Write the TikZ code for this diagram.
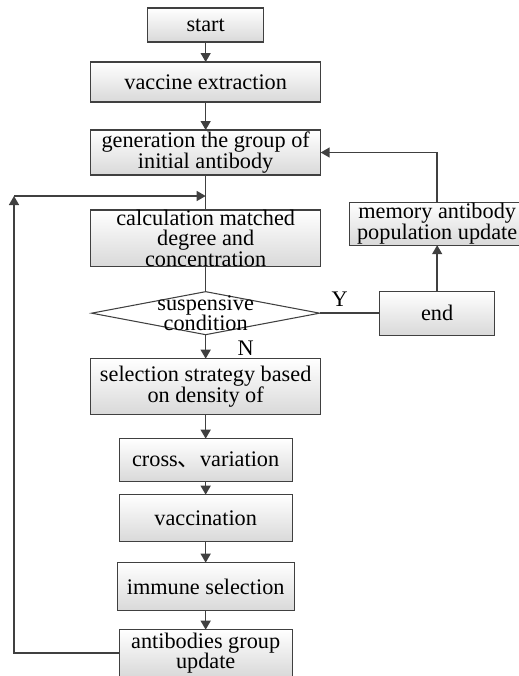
\documentclass[tikz,border=0pt]{standalone}
\usepackage{fontspec}
\setmainfont{Liberation Serif}
\newfontfamily\cjk{Noto Sans CJK SC}
\usepackage{tikz}
\usetikzlibrary{shapes.geometric, arrows.meta, positioning, calc, shadows}
\tikzset{
  kutu/.style={rectangle, draw=black!75, line width=0.9pt, top color=white, bottom color=black!15, drop shadow={shadow xshift=0.7pt, shadow yshift=-0.7pt, fill=black!45}, minimum width=6.9cm, minimum height=1.2cm, align=center, font=\fontsize{19}{17.5}\selectfont, inner ysep=1pt, outer sep=0pt},
  karar/.style={diamond, draw=black!75, line width=0.9pt, fill=white, aspect=5.3, minimum width=6.84cm, minimum height=1.29cm, inner sep=0pt, outer sep=0pt},
  etiket/.style={font=\fontsize{19}{17.5}\selectfont, align=center, inner sep=0pt},
  akis/.style={-{Triangle[length=0.27cm, width=0.3cm]}, line width=1.2pt, draw=black!75},
  hat/.style={line width=1.2pt, draw=black!75},
}
\begin{document}
\begin{tikzpicture}
  \useasboundingbox (0,0) rectangle (15.57,-20.28);
  % Ana akış
  \node[kutu, minimum width=3.48cm, minimum height=1.02cm] (start) at (6.17,-0.75) {start};
  \node[kutu, below=0.6cm of start] (vac) {vaccine extraction};
  \node[kutu, below=0.84cm of vac, minimum height=1.35cm] (gen) {generation the group of\\initial antibody};
  \node[kutu, below=1.05cm of gen, minimum height=1.65cm, inner ysep=0pt] (calc) {calculation matched\\degree and\\concentration};
  \node[karar, below=0.75cm of calc, label={[etiket]center:{suspensive\\condition}}] (cond) {};
  \node[kutu, below=0.72cm of cond, minimum height=1.68cm] (sel) {selection strategy based\\on density of};
  \node[kutu, below=0.72cm of sel, minimum width=5.19cm, minimum height=1.29cm] (cross) {cross{\cjk 、}variation};
  \node[kutu, below=0.39cm of cross, minimum width=5.19cm, minimum height=1.41cm] (vacn) {vaccination};
  \node[kutu, below=0.63cm of vacn, minimum width=5.31cm, minimum height=1.44cm] (imm) {immune selection};
  \node[kutu, below=0.57cm of imm, minimum width=5.19cm, minimum height=1.41cm] (upd) {antibodies group\\update};
  % Sağ kol
  \node[kutu, right=1.8cm of cond, minimum width=3.45cm, minimum height=1.32cm] (bitis) {end};
  \node[kutu, above=1.38cm of bitis, minimum width=5.25cm, minimum height=1.23cm] (mem) {memory antibody\\population update};
  % Y / N
  \node[etiket] (yes) at ([xshift=0.6cm, yshift=0.42cm]cond.east) {Y};
  \node[etiket] (no) at ([xshift=1.2cm, yshift=-0.42cm]cond.south) {N};
  % Oklar
  \draw[akis] (start) -- (vac);
  \draw[akis] (vac) -- (gen);
  \draw[hat] (gen) -- (calc);
  \draw[hat] (calc) -- (cond);
  \draw[akis] (cond) -- (sel);
  \draw[akis] (sel) -- (cross);
  \draw[akis] (cross) -- (vacn);
  \draw[akis] (vacn) -- (imm);
  \draw[akis] (imm) -- (upd);
  \draw[hat] (cond) -- (bitis);
  \draw[akis] (bitis) -- (mem);
  \draw[akis] (mem.north) |- (gen.east);
  % Geri besleme döngüsü
  \path (gen.south) -- coordinate[pos=0.6] (mj) (calc.north);
  \coordinate (lx) at (0.42,0);
  \draw[akis] (upd.west) -| (lx |- mj);
  \draw[akis] (lx |- mj) -- (mj);
\end{tikzpicture}
\end{document}
